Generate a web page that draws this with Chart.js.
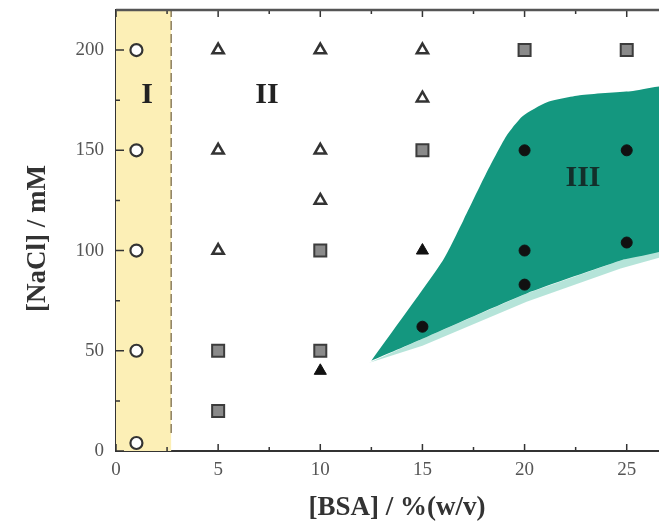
<!DOCTYPE html>
<html>
<head>
<title>BSA / NaCl phase diagram</title>
<script src="https://cdn.jsdelivr.net/npm/chart.js"></script>
<style>
html, body { margin: 0; padding: 0; background: #fff; overflow: hidden; }
canvas { display: block; }
</style>
</head>
<body>
<canvas id="phase" width="659" height="527"></canvas>
<script>
// tick labels
const xTicks = [0, 5, 10, 15, 20, 25];
const yTicks = [0, 50, 100, 150, 200];

// open circles (region I)
const bsaOpenCirc = [1, 1, 1, 1, 1];
const naclOpenCirc = [200, 150, 100, 50, 4];
// open triangles
const bsaOpenTri = [5, 5, 5, 10, 10, 10, 15, 15];
const naclOpenTri = [200, 150, 100, 200, 150, 125, 200, 176];
// grey squares
const bsaSquare = [5, 5, 10, 10, 15, 20, 25];
const naclSquare = [50, 20, 100, 50, 150, 200, 200];
// filled triangles
const bsaFillTri = [10, 15];
const naclFillTri = [40, 100];
// filled circles (region III)
const bsaFillCirc = [15, 20, 20, 20, 25, 25];
const naclFillCirc = [62, 150, 100, 83, 150, 104];

// region I band and its border
const bsaBand = [0, 2.7, 2.7, 0];
const naclBand = [0, 0, 220, 220];
const bsaBorder = [2.7, 2.7];
const naclBorder = [9, 220];

// region III outline, upper edge then lower edge
const bsaIII = [12.5, 16, 17, 18.1, 19.1, 19.9, 21.1, 22.7, 25.2, 27.5, 27.5, 24.7, 20.1, 15, 12.5];
const naclIII = [45, 95, 115, 138, 157, 167, 174, 177.5, 179.5, 181, 104, 95, 78.6, 56, 45];
// pale fringe under the lower edge
const bsaFringe = [12.4, 15, 20.1, 24.7, 27.5, 27.5, 24.7, 20.1, 15, 12.4];
const naclFringe = [44, 52.5, 74.5, 91, 99, 104, 95, 78.6, 56, 44];

const pts = (xs, ys) => xs.map((x, i) => ({ x: x, y: ys[i] }));

const serif = '"Liberation Serif", "DejaVu Serif", serif';

const shape = (xs, ys, color, order, tension) => ({
    data: pts(xs, ys),
    showLine: true,
    fill: 'shape',
    backgroundColor: color,
    borderWidth: 0,
    pointRadius: 0,
    tension: tension || 0,
    order: order
});

const marks = (xs, ys, style, r, fillCol, lineCol, lw) => ({
    data: pts(xs, ys),
    pointStyle: style,
    pointRadius: r,
    backgroundColor: fillCol,
    borderColor: lineCol,
    borderWidth: lw,
    order: 1
});

// inward ticks, top frame line and text labels
const decor = {
    id: 'decor',
    afterDraw(chart) {
        const ctx = chart.ctx;
        const xs = chart.scales.x, ys = chart.scales.y;
        const a = chart.chartArea;
        ctx.save();
        ctx.strokeStyle = '#333';
        ctx.lineWidth = 1.5;
        ctx.beginPath();
        for (let v = 0; v <= 26; v += 2.5) {
            const px = xs.getPixelForValue(v);
            const len = v % 5 === 0 ? 7 : 4;
            ctx.moveTo(px, a.bottom); ctx.lineTo(px, a.bottom - len);
            ctx.moveTo(px, a.top); ctx.lineTo(px, a.top + len);
        }
        for (let v = 0; v <= 200; v += 25) {
            const py = ys.getPixelForValue(v);
            const len = v % 50 === 0 ? 8 : 4;
            ctx.moveTo(a.left, py); ctx.lineTo(a.left + len, py);
        }
        ctx.stroke();
        ctx.lineWidth = 2.5;
        ctx.strokeStyle = '#555';
        ctx.beginPath();
        ctx.moveTo(a.left, a.top); ctx.lineTo(a.right, a.top);
        ctx.stroke();

        ctx.textAlign = 'center';
        ctx.textBaseline = 'middle';
        ctx.fillStyle = '#222';
        ctx.font = 'bold 30px ' + serif;
        ctx.fillText('I', xs.getPixelForValue(1.52), ys.getPixelForValue(177.5));
        ctx.fillText('II', xs.getPixelForValue(7.39), ys.getPixelForValue(177.5));
        ctx.fillStyle = '#13302b';
        ctx.fillText('III', xs.getPixelForValue(22.86), ys.getPixelForValue(136));

        ctx.fillStyle = '#333';
        ctx.font = 'bold 27px ' + serif;
        ctx.fillText('[BSA] / %(w/v)', xs.getPixelForValue(13.75), 508);
        ctx.translate(38, ys.getPixelForValue(106));
        ctx.rotate(-Math.PI / 2);
        ctx.fillText('[NaCl] / mM', 0, 0);
        ctx.restore();
    }
};

new Chart(document.getElementById('phase'), {
    type: 'scatter',
    data: {
        datasets: [
            shape(bsaBand, naclBand, '#fcefb6', 10),
            {
                data: pts(bsaBorder, naclBorder),
                showLine: true,
                borderColor: '#7a6a48',
                borderWidth: 1.3,
                borderDash: [9, 4],
                pointRadius: 0,
                order: 9
            },
            shape(bsaFringe, naclFringe, 'rgba(120, 205, 185, 0.55)', 8),
            shape(bsaIII, naclIII, '#14977f', 7, 0.2),
            marks(bsaOpenCirc, naclOpenCirc, 'circle', 6, '#fff', '#333', 2.2),
            marks(bsaOpenTri, naclOpenTri, 'triangle', 6.5, '#fff', '#333', 2.5),
            marks(bsaSquare, naclSquare, 'rect', 8.5, '#8a8a8a', '#3c3c3c', 2),
            marks(bsaFillTri, naclFillTri, 'triangle', 7, '#111', '#111', 1),
            marks(bsaFillCirc, naclFillCirc, 'circle', 5.5, '#111', '#111', 1)
        ]
    },
    options: {
        responsive: false,
        animation: false,
        layout: { autoPadding: false, padding: { top: 10, right: 0, left: 0, bottom: 0 } },
        plugins: { legend: { display: false }, tooltip: { enabled: false } },
        scales: {
            x: {
                type: 'linear',
                min: 0,
                max: 26.58,
                grid: { display: false, drawTicks: false },
                border: { display: true, color: '#333', width: 2 },
                ticks: { color: '#555', padding: 8, font: { family: serif, size: 19 } },
                afterBuildTicks: s => { s.ticks = xTicks.map(v => ({ value: v })); },
                afterFit: s => { s.height = 76; s.paddingLeft = 0; s.paddingRight = 0; }
            },
            y: {
                type: 'linear',
                min: 0,
                max: 220,
                grid: { display: false, drawTicks: false },
                border: { display: true, color: '#333', width: 2 },
                ticks: { color: '#555', padding: 12, font: { family: serif, size: 19 } },
                afterBuildTicks: s => { s.ticks = yTicks.map(v => ({ value: v })); },
                afterFit: s => { s.width = 116; s.paddingTop = 0; s.paddingBottom = 0; }
            }
        }
    },
    plugins: [decor]
});
</script>
</body>
</html>
